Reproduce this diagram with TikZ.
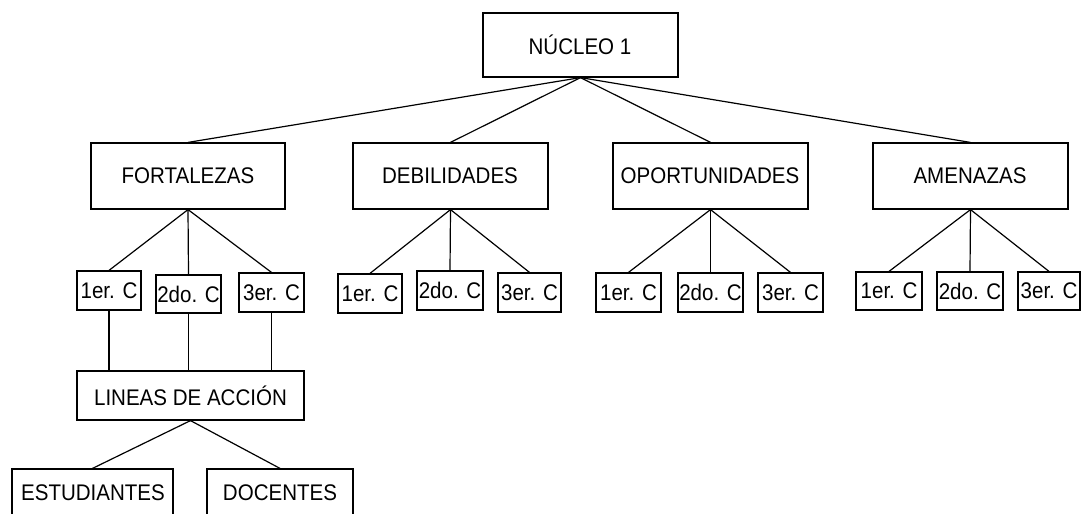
\documentclass[tikz,border=0pt]{standalone}
\usepackage{fontspec}
\setmainfont{Liberation Sans}
\usetikzlibrary{fit}
\begin{document}
\begin{tikzpicture}[x=0.75pt,y=-0.75pt,
  box/.style={draw, line width=0.9pt, inner sep=0pt},
  lbl/.style={inner sep=0pt, font=\fontsize{15.4}{18}\selectfont, yscale=1.1, transform shape},
  conn/.style={line width=0.9pt}]
\useasboundingbox (0,0) rectangle (1089,514);
\clip (0,0) rectangle (1089,514);
% top
\node[box, fit={(483,13) (678,77)}] (nuc) {};
% level 1
\node[box, fit={(91,143) (285,209)}] (fort) {};
\node[box, fit={(353,143) (548,209)}] (deb) {};
\node[box, fit={(613,143) (808,209)}] (opo) {};
\node[box, fit={(873,143) (1068,209)}] (ame) {};
% level 2
\node[box, fit={(77,271) (141,310)}] (f1) {};
\node[box, fit={(156,275) (221,313)}] (f2) {};
\node[box, fit={(239,273) (304,312)}] (f3) {};
\node[box, fit={(338,274) (402,313)}] (d1) {};
\node[box, fit={(417,271) (483,310)}] (d2) {};
\node[box, fit={(498,273) (561,312)}] (d3) {};
\node[box, fit={(596,273) (661,312)}] (o1) {};
\node[box, fit={(678,273) (743,312)}] (o2) {};
\node[box, fit={(758,273) (823,312)}] (o3) {};
\node[box, fit={(856,272) (922,310)}] (a1) {};
\node[box, fit={(937,272) (1003,310)}] (a2) {};
\node[box, fit={(1018,272) (1080,310)}] (a3) {};
% lineas
\node[box, fit={(77,371) (304,420)}] (lin) {};
\node[box, fit={(12,469) (173,517)}] (est) {};
\node[box, fit={(207,469) (353,517)}] (doc) {};
% labels
\node[lbl] (nucT) at (580,45) {NÚCLEO 1};
\node[lbl] (fortT) at (188,176) {FORTALEZAS};
\node[lbl] (debT) at (450,176) {DEBILIDADES};
\node[lbl] (opoT) at (710,176) {OPORTUNIDADES};
\node[lbl] (ameT) at (970,176) {AMENAZAS};
\foreach \c in {f,d,o,a} {
  \node[lbl] (\c1T) at (\c1) {1er. C};
  \node[lbl] (\c2T) at (\c2) {2do. C};
  \node[lbl] (\c3T) at (\c3) {3er. C};
}
\node[lbl] (linT) at (lin) {LINEAS DE ACCIÓN};
\node[lbl] (estT) at (93,493) {ESTUDIANTES};
\node[lbl] (docT) at (280,493) {DOCENTES};
% connectors
\foreach \t in {fort,deb,opo,ame} \draw[conn] (nuc.south) -- (\t.north);
\foreach \p/\c in {fort/f,deb/d,opo/o,ame/a}
  \foreach \i in {1,2,3} \draw[conn] (\p.south) -- (\c\i.north);
\foreach \i in {1,2,3} \draw[conn] (f\i.south) -- (f\i.south |- lin.north);
\draw[conn] (lin.south) -- (est.north);
\draw[conn] (lin.south) -- (doc.north);
\end{tikzpicture}
\end{document}
